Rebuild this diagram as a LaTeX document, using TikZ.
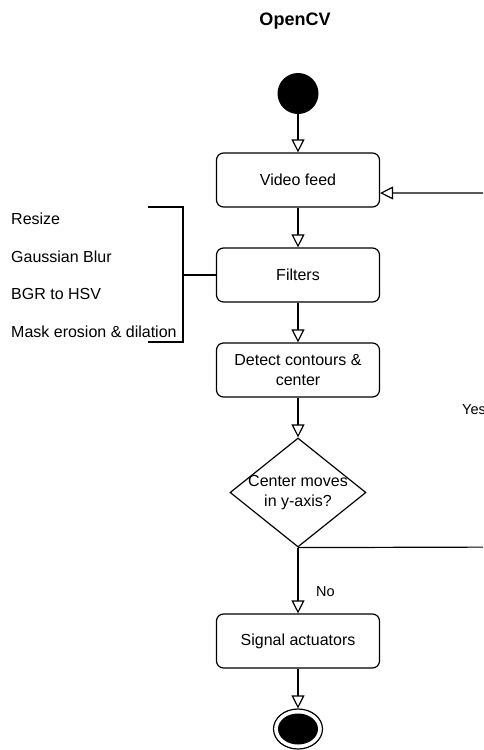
\documentclass[tikz,border=0pt]{standalone}
\usepackage{fontspec}
\setmainfont{Liberation Sans}
\usetikzlibrary{arrows.meta,shapes.geometric}
\begin{document}
\begin{tikzpicture}[x=1pt,y=-1pt,
  txt/.style={font=\fontsize{16}{20}\selectfont},
  act/.style={draw, rounded corners=7pt, line width=1.2pt, minimum width=163pt, minimum height=54pt, inner sep=0pt, align=center, txt},
  flow/.style={draw, line width=1.2pt, -{Triangle[open, width=13pt, length=13pt, line width=1.2pt]}},
  lbl/.style={font=\fontsize{14.5}{17}\selectfont, anchor=west, inner sep=0pt},
  item/.style={txt, anchor=west, inner sep=0pt},
  brk/.style={line width=2.4pt},
]
\useasboundingbox (0,0) rectangle (483,750);
\clip (0,0) rectangle (483,750);
\node[font=\bfseries\fontsize{18}{22}\selectfont] (title) at (295,21) {OpenCV};
\node[circle, fill=black, minimum size=41pt, inner sep=0pt] (start) at (298,93.5) {};
\node[act] (video) at (298,180) {Video feed};
\node[act] (filters) at (298,275) {Filters};
\node[act] (detect) at (298,370) {Detect contours \&\\center};
\node[diamond, draw, line width=1.2pt, minimum width=136pt, minimum height=109pt, inner sep=0pt] (dec) at (298,492.5) {};
\node[txt, align=center, inner sep=0pt] (dectext) at (298,493) {Center moves\\in y-axis?};
\node[act] (signal) at (298,641) {Signal actuators};
\node[ellipse, draw, line width=1.2pt, fill=white, minimum width=49pt, minimum height=40pt, inner sep=0pt] (end) at (298,729) {};
\fill (end.center) ellipse [x radius=20pt, y radius=15.5pt];

\draw[flow] (start) -- (video);
\draw[flow] (video) -- (filters);
\draw[flow] (filters) -- (detect);
\draw[flow] (detect) -- (dec);
\draw[flow] (dec) -- (signal);
\draw[flow] (signal) -- (end);

\coordinate (loopr) at (520,547);
\coordinate (loopt) at (520,193);
\draw[flow] (dec.south) -- (loopr) -- (loopt) -- (video.east |- loopt);
\node[lbl] (yes) at (462,410) {Yes};
\node[lbl] (no) at (316,592) {No};

\node[item] (i1) at (11,219) {Resize};
\node[item] (i2) at (11,257) {Gaussian Blur};
\node[item] (i3) at (11,294) {BGR to HSV};
\node[item] (i4) at (11,332) {Mask erosion \& dilation};
\coordinate (bt) at (148,207);
\coordinate (bb) at (148,342);
\coordinate (bmid) at (183,275);
\draw[brk] (bt) -- (bt -| bmid) -- (bb -| bmid) -- (bb);
\draw[brk] (bmid) -- (filters.west);
\end{tikzpicture}
\end{document}
